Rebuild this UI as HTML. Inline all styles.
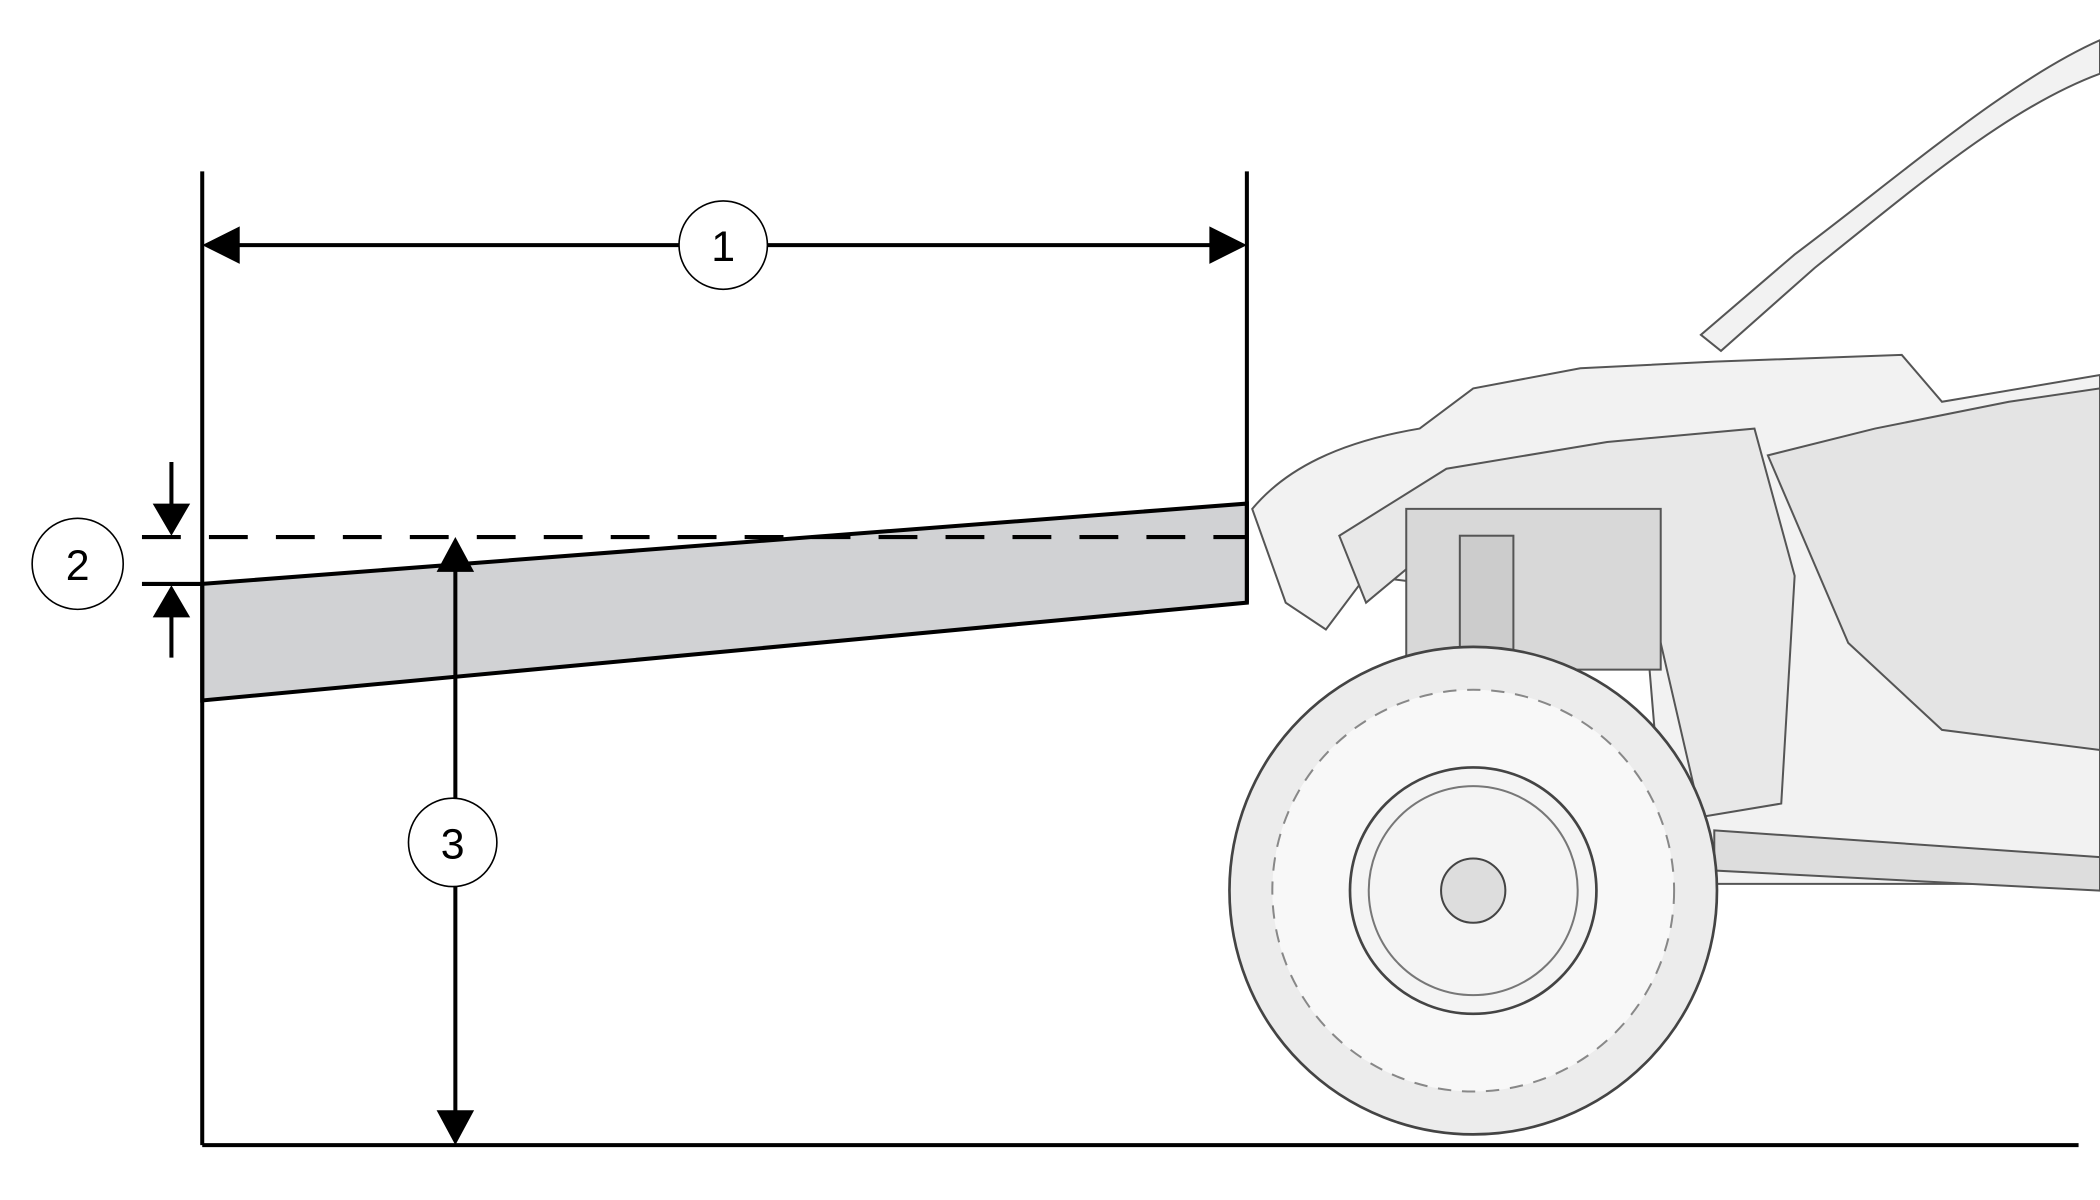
<!DOCTYPE html>
<html><head><meta charset="utf-8"><style>html,body{margin:0;padding:0;background:#fff}svg{display:block}</style></head>
<body>
<svg width="2100" height="1200" viewBox="0 0 1568 896" preserveAspectRatio="none" xmlns="http://www.w3.org/2000/svg">
<rect width="1568" height="896" fill="#fff"/>
<!-- vehicle sketch -->
<g stroke="#555" stroke-width="1.5" fill="#f2f2f2">
<path d="M1568 30 C1500 60 1420 130 1340 190 L1270 250 L1285 262 L1355 200 C1430 140 1500 80 1568 55 Z"/>
<path d="M935 380 C960 350 1000 330 1060 320 L1100 290 L1180 275 L1280 270 L1420 265 L1450 300 L1568 280 L1568 660 L1280 660 L1240 600 L1230 480 L1180 450 L1100 440 L1020 430 L990 470 L960 450 Z"/>
<path d="M1320 340 L1400 320 L1500 300 L1568 290 L1568 560 L1450 545 L1380 480 Z" fill="#e4e4e4"/>
<path d="M1000 400 L1080 350 L1200 330 L1310 320 L1340 430 L1330 600 L1270 610 L1240 480 L1200 420 L1080 400 L1020 450 Z" fill="#e8e8e8"/>
<path d="M1050 380 L1240 380 L1240 500 L1050 500 Z" fill="#d8d8d8"/>
<path d="M1280 620 L1568 640 L1568 665 L1280 650 Z" fill="#ddd"/>
<rect x="1090" y="400" width="40" height="90" fill="#ccc"/>
</g>
<circle cx="1100" cy="665" r="182" fill="#ececec" stroke="#444" stroke-width="2"/>
<circle cx="1100" cy="665" r="150" fill="#f8f8f8" stroke="#888" stroke-width="1.5" stroke-dasharray="10 8"/>
<circle cx="1100" cy="665" r="92" fill="#f4f4f4" stroke="#444" stroke-width="2"/>
<circle cx="1100" cy="665" r="78" fill="none" stroke="#777" stroke-width="1.5"/>
<circle cx="1100" cy="665" r="24" fill="#ddd" stroke="#444" stroke-width="1.5"/>
<!-- gray band -->
<polygon points="151,436 931,376 931,450 151,523" fill="#d1d2d4" stroke="#000" stroke-width="3"/>
<!-- lines -->
<g stroke="#000" stroke-width="3" fill="none">
<line x1="151" y1="128" x2="151" y2="855"/>
<line x1="931" y1="128" x2="931" y2="450"/>
<line x1="151" y1="855" x2="1552" y2="855"/>
<line x1="175" y1="183" x2="907" y2="183"/>
<line x1="106" y1="401" x2="931" y2="401" stroke-dasharray="29 21"/>
<line x1="106" y1="436" x2="151" y2="436"/>
<line x1="128" y1="345" x2="128" y2="380"/>
<line x1="128" y1="458" x2="128" y2="491"/>
<line x1="340" y1="425" x2="340" y2="830"/>
</g>
<g fill="#000">
<polygon points="151,183 179,169 179,197"/>
<polygon points="931,183 903,169 903,197"/>
<polygon points="128,400 114,376 142,376"/>
<polygon points="128,437 114,461 142,461"/>
<polygon points="340,401 326,427 354,427"/>
<polygon points="340,855 326,829 354,829"/>
</g>
<g fill="#fff" stroke="#000" stroke-width="1.2">
<circle cx="540" cy="183" r="33"/>
<circle cx="58" cy="421" r="34"/>
<circle cx="338" cy="629" r="33"/>
</g>
<g font-family="Liberation Sans, sans-serif" font-size="32" text-anchor="middle" fill="#000">
<text x="540" y="195">1</text>
<text x="58" y="433">2</text>
<text x="338" y="641">3</text>
</g>
</svg>
</body></html>
